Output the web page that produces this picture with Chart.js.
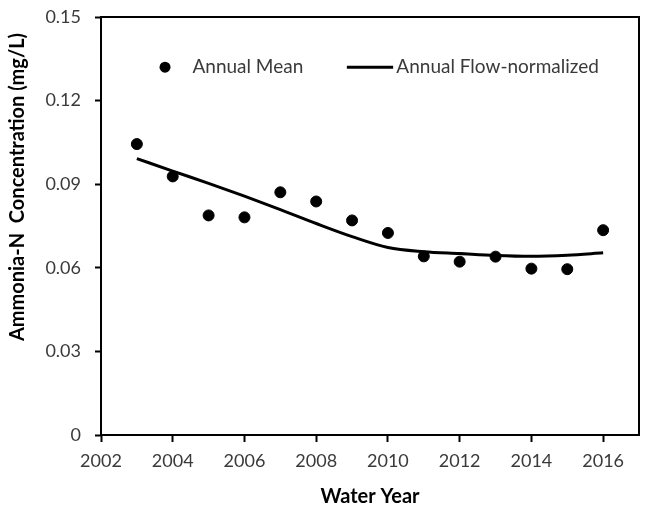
<!DOCTYPE html>
<html lang="en">
<head>
<meta charset="UTF-8">
<title>Ammonia-N Concentration</title>
<script src="https://cdn.jsdelivr.net/npm/chart.js"></script>
<style>
  html, body { margin: 0; padding: 0; background: #fff; }
  #wrap { width: 652px; height: 513px; position: relative; }
</style>
</head>
<body>
<div id="wrap"><canvas id="chart"></canvas></div>
<script>
// data
const years = [2003, 2004, 2005, 2006, 2007, 2008, 2009, 2010, 2011, 2012, 2013, 2014, 2015, 2016];
const annualMean = [0.1044, 0.0928, 0.0788, 0.0781, 0.0871, 0.0838, 0.0770, 0.0725, 0.0641, 0.0622, 0.0640, 0.0597, 0.0595, 0.0735];
const flowNormalized = [0.0992, 0.0947, 0.0903, 0.0857, 0.0809, 0.0759, 0.0712, 0.0673, 0.0658, 0.0651, 0.0644, 0.0641, 0.0645, 0.0654];
const xTicks = [2002, 2004, 2006, 2008, 2010, 2012, 2014, 2016];
const yTicks = [0, 0.03, 0.06, 0.09, 0.12, 0.15];
const yTickLabels = ['0', '0.03', '0.06', '0.09', '0.12', '0.15'];

const FONT = 'Lato, "Open Sans", sans-serif';
const TEXT = '#3a3a3a';

// frame around the plot, y title and the in-plot legend
const decor = {
  id: 'decor',
  afterDraw(chart) {
    const { ctx, chartArea: a } = chart;
    ctx.save();
    ctx.strokeStyle = '#000';
    ctx.lineWidth = 2;
    ctx.strokeRect(a.left, a.top, a.right - a.left, a.bottom - a.top);

    // y axis title
    ctx.translate(18, 187);
    ctx.rotate(-Math.PI / 2);
    ctx.fillStyle = '#000';
    ctx.font = 'bold 20px ' + FONT;
    ctx.textAlign = 'center';
    ctx.textBaseline = 'middle';
    ctx.fillText('Ammonia-N  Concentration (mg/L)', 0, 0);
    ctx.restore();

    // legend
    const w = a.right - a.left, h = a.bottom - a.top;
    const ly = a.top + h * 0.12;
    ctx.save();
    ctx.fillStyle = '#000';
    ctx.beginPath();
    ctx.arc(a.left + w * 0.119, ly, 5.5, 0, Math.PI * 2);
    ctx.fill();
    ctx.strokeStyle = '#000';
    ctx.lineWidth = 3;
    ctx.beginPath();
    ctx.moveTo(a.left + w * 0.457, ly);
    ctx.lineTo(a.left + w * 0.543, ly);
    ctx.stroke();
    ctx.fillStyle = TEXT;
    ctx.font = '19px ' + FONT;
    ctx.textBaseline = 'middle';
    ctx.textAlign = 'left';
    ctx.fillText('Annual Mean', a.left + w * 0.17, ly);
    ctx.fillText('Annual Flow-normalized', a.left + w * 0.549, ly);
    ctx.restore();
  }
};

new Chart(document.getElementById('chart'), {
  type: 'scatter',
  data: {
    datasets: [
      {
        label: 'Annual Mean',
        data: years.map((y, i) => ({ x: y, y: annualMean[i] })),
        backgroundColor: '#000',
        borderColor: '#000',
        pointRadius: 5.5,
        showLine: false,
        order: 1
      },
      {
        label: 'Annual Flow-normalized',
        data: years.map((y, i) => ({ x: y, y: flowNormalized[i] })),
        borderColor: '#000',
        borderWidth: 3,
        pointRadius: 0,
        showLine: true,
        cubicInterpolationMode: 'monotone',
        order: 2
      }
    ]
  },
  options: {
    responsive: true,
    maintainAspectRatio: false,
    animation: false,
    layout: { padding: { left: 0, top: 17, right: 13, bottom: 0 } },
    plugins: {
      legend: { display: false },
      tooltip: { enabled: false }
    },
    scales: {
      x: {
        type: 'linear',
        min: 2002,
        max: 2017,
        afterBuildTicks: s => { s.ticks = xTicks.map(v => ({ value: v })); },
        afterFit: s => { s.height = 78; s.paddingLeft = 0; s.paddingRight = 0; },
        grid: { drawOnChartArea: false, drawTicks: true, tickLength: 7, tickWidth: 2, tickColor: '#000' },
        border: { display: false },
        ticks: { color: TEXT, font: { family: FONT, size: 18 }, padding: 8, maxRotation: 0, callback: v => String(v) },
        title: { display: true, text: 'Water Year', color: '#000', font: { family: FONT, size: 20, weight: 'bold' }, padding: { top: 0, bottom: 4 } }
      },
      y: {
        min: 0,
        max: 0.15,
        afterBuildTicks: s => { s.ticks = yTicks.map(v => ({ value: v })); },
        afterFit: s => { s.width = 101; s.paddingTop = 0; s.paddingBottom = 0; },
        grid: { drawOnChartArea: false, drawTicks: true, tickLength: 6, tickWidth: 2, tickColor: '#000' },
        border: { display: false },
        ticks: {
          color: TEXT,
          font: { family: FONT, size: 18 },
          padding: 14,
          callback: v => yTickLabels[yTicks.indexOf(v)]
        }
      }
    }
  },
  plugins: [decor]
});
</script>
</body>
</html>
